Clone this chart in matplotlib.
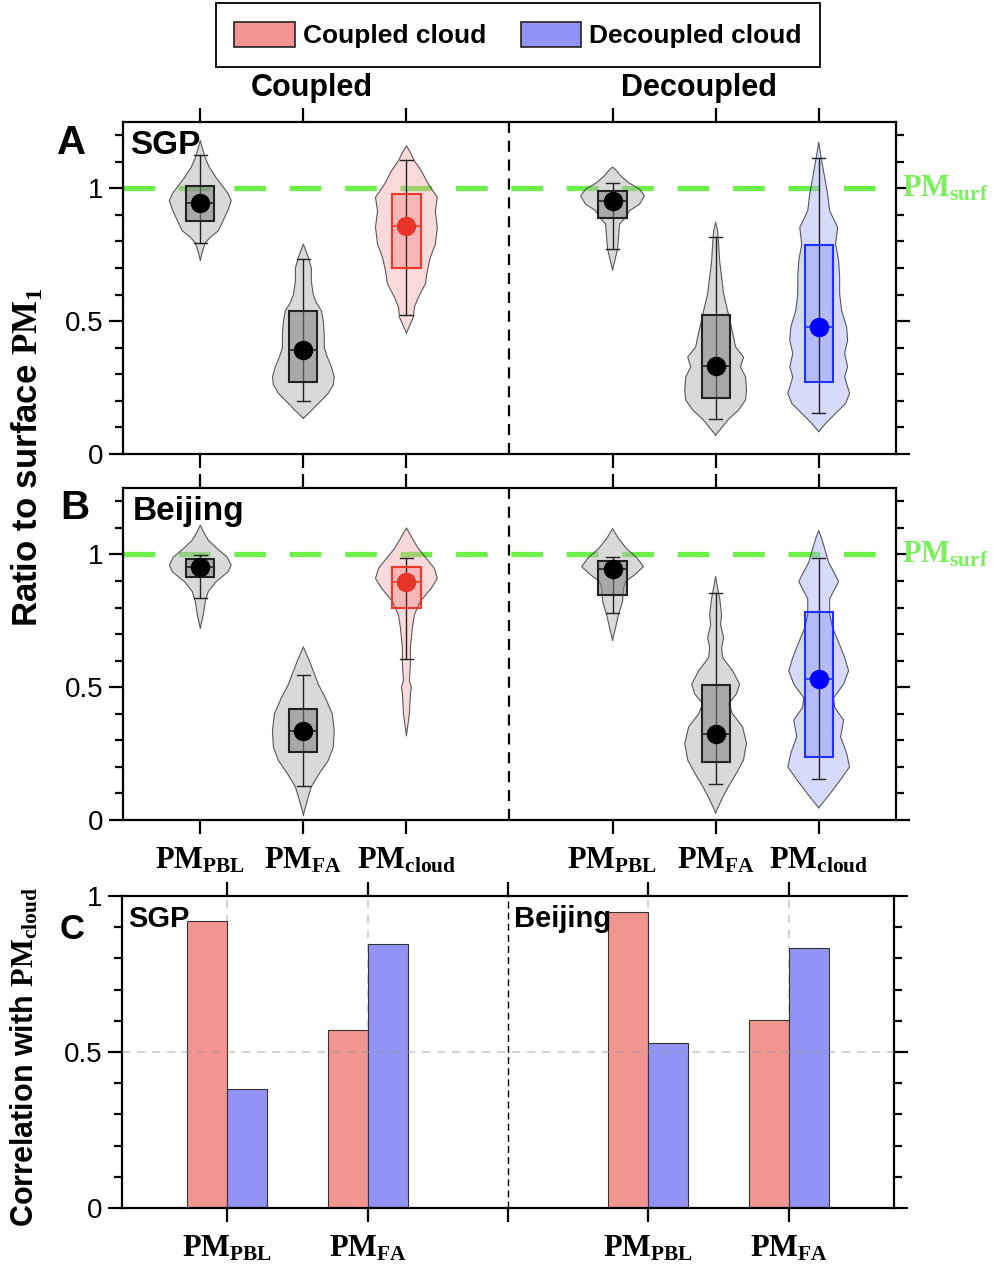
import numpy as np
import matplotlib
matplotlib.use('Agg')
import matplotlib.pyplot as plt
from matplotlib.patches import Patch, Rectangle
from matplotlib.ticker import MultipleLocator
import matplotlib.transforms as mtransforms

plt.rcParams['font.family'] = ['Liberation Sans', 'DejaVu Sans']
plt.rcParams['mathtext.fontset'] = 'custom'
plt.rcParams['mathtext.rm'] = 'Liberation Serif:bold'
plt.rcParams['mathtext.bf'] = 'Liberation Serif:bold'
plt.rcParams['mathtext.it'] = 'Liberation Serif:bold'

# ---------------- data ----------------
violin_pos = [1, 2, 3, 5, 6, 7]
violin_kind = ['gray', 'gray', 'red', 'gray', 'gray', 'blue']
xlabels_ab = [r'$\mathrm{PM}_{\mathrm{PBL}}$', r'$\mathrm{PM}_{\mathrm{FA}}$', r'$\mathrm{PM}_{\mathrm{cloud}}$',
              r'$\mathrm{PM}_{\mathrm{PBL}}$', r'$\mathrm{PM}_{\mathrm{FA}}$', r'$\mathrm{PM}_{\mathrm{cloud}}$']

# box stats: q1, q3, mean, whisker low, whisker high
sgp_q1 = [0.879, 0.272, 0.700, 0.889, 0.209, 0.272]
sgp_q3 = [1.010, 0.537, 0.979, 0.991, 0.524, 0.785]
sgp_mean = [0.945, 0.390, 0.857, 0.954, 0.332, 0.478]
sgp_lo = [0.795, 0.200, 0.522, 0.772, 0.131, 0.153]
sgp_hi = [1.126, 0.735, 1.106, 1.022, 0.816, 1.114]

bj_q1 = [0.916, 0.256, 0.798, 0.847, 0.217, 0.239]
bj_q3 = [0.982, 0.418, 0.954, 0.974, 0.507, 0.783]
bj_mean = [0.954, 0.337, 0.895, 0.946, 0.324, 0.532]
bj_lo = [0.835, 0.127, 0.605, 0.780, 0.136, 0.156]
bj_hi = [0.998, 0.546, 0.985, 0.989, 0.855, 0.985]

# violin outlines: level and relative density (1 = widest)
sgp_vy = [
    [0.73, 0.76, 0.795, 0.816, 0.84, 0.879, 0.92, 0.954, 0.98, 1.00, 1.04, 1.08, 1.115, 1.14, 1.18],
    [0.134, 0.159, 0.19, 0.228, 0.26, 0.29, 0.33, 0.365, 0.40, 0.45, 0.50, 0.54, 0.57, 0.60, 0.65, 0.70, 0.74, 0.77, 0.79],
    [0.455, 0.515, 0.553, 0.59, 0.64, 0.69, 0.74, 0.79, 0.853, 0.916, 0.966, 1.016, 1.066, 1.104, 1.135, 1.16],
    [0.693, 0.74, 0.772, 0.816, 0.866, 0.89, 0.916, 0.94, 0.972, 0.997, 1.022, 1.048, 1.067, 1.08],
    [0.071, 0.103, 0.131, 0.165, 0.203, 0.24, 0.29, 0.328, 0.365, 0.403, 0.44, 0.49, 0.54, 0.603, 0.666, 0.728, 0.79, 0.84, 0.872],
    [0.084, 0.115, 0.153, 0.19, 0.228, 0.29, 0.328, 0.378, 0.428, 0.478, 0.54, 0.603, 0.666, 0.728, 0.79, 0.853, 0.916, 0.979, 1.041, 1.104, 1.173],
]
sgp_vd = [
    [0, 2, 5, 10, 18, 23, 28, 31, 28, 24, 16, 9, 5, 3, 0],
    [0, 7, 15, 25, 30, 31, 28, 24, 21, 21, 20, 18, 13, 10, 8, 8, 5, 2, 0],
    [0, 7, 8, 12, 19, 21, 24, 29, 31, 29, 31, 22, 15, 8, 4, 0],
    [0, 3, 5, 6, 7, 13, 17, 27, 32, 27, 16, 8, 4, 0],
    [0, 7, 13, 23, 30, 31, 30, 25, 28, 20, 18, 15, 12, 8, 6, 4, 3, 2, 0],
    [0, 7, 17, 27, 31, 26, 29, 26, 29, 28, 23, 21, 21, 20, 17, 19, 11, 9, 6, 3, 0],
]
bj_vy = [
    [0.723, 0.773, 0.823, 0.86, 0.898, 0.935, 0.96, 0.99, 1.022, 1.054, 1.08, 1.11],
    [0.019, 0.075, 0.125, 0.175, 0.224, 0.274, 0.337, 0.40, 0.461, 0.511, 0.561, 0.60, 0.652],
    [0.318, 0.40, 0.474, 0.50, 0.524, 0.586, 0.648, 0.723, 0.773, 0.823, 0.873, 0.91, 0.948, 0.985, 1.022, 1.06, 1.10],
    [0.677, 0.724, 0.774, 0.823, 0.873, 0.898, 0.923, 0.954, 0.985, 1.022, 1.06, 1.097],
    [0.027, 0.077, 0.127, 0.177, 0.226, 0.289, 0.351, 0.40, 0.438, 0.475, 0.512, 0.562, 0.612, 0.649, 0.687, 0.736, 0.774, 0.836, 0.873, 0.917],
    [0.046, 0.102, 0.152, 0.20, 0.251, 0.313, 0.376, 0.425, 0.46, 0.512, 0.562, 0.612, 0.66, 0.724, 0.774, 0.833, 0.898, 0.935, 0.97, 1.022, 1.06, 1.09],
]
bj_vd = [
    [0, 3, 5, 8, 16, 28, 31, 27, 17, 8, 4, 0],
    [0, 4, 8, 16, 25, 30, 31, 29, 22, 15, 10, 6, 0],
    [0, 3, 4, 5, 3, 4, 4, 6, 8, 14, 25, 31, 28, 20, 12, 6, 0],
    [0, 3, 6, 10, 11, 13, 22, 31, 25, 14, 6, 0],
    [0, 6, 13, 21, 28, 31, 27, 17, 13, 21, 24, 17, 7, 6, 8, 5, 6, 4, 2, 0],
    [0, 12, 22, 31, 28, 22, 25, 16, 15, 25, 30, 26, 21, 14, 11, 11, 20, 15, 10, 6, 3, 0],
]

# panel C correlations
bar_pos = [1, 2, 4, 5]
bar_labels = [r'$\mathrm{PM}_{\mathrm{PBL}}$', r'$\mathrm{PM}_{\mathrm{FA}}$',
              r'$\mathrm{PM}_{\mathrm{PBL}}$', r'$\mathrm{PM}_{\mathrm{FA}}$']
corr_coupled = [0.920, 0.571, 0.949, 0.602]
corr_decoupled = [0.383, 0.845, 0.529, 0.833]

# ---------------- styles ----------------
styles = {
    'gray': dict(vfill='#b4b4b4', valpha=0.5, bfill='#808080', balpha=0.55, edge='#222222', dot='black'),
    'red': dict(vfill='#f0a0a0', valpha=0.4, bfill='#e83030', balpha=0.2, edge='#ea3a2e', dot='#e8352a'),
    'blue': dict(vfill='#a8aef5', valpha=0.45, bfill='#3040f0', balpha=0.2, edge='#2030ff', dot='#0000ff'),
}
GREEN = '#6ef04a'
RED_BAR = '#f0958f'
BLUE_BAR = '#9393f5'
VHALF = 0.30 / 31.0
BOXHALF = 0.137
CAPHALF = 0.065

fig = plt.figure(figsize=(9.95, 12.68), dpi=100)
axA = fig.add_axes([0.1236, 0.6420, 0.7769, 0.2618])
axB = fig.add_axes([0.1236, 0.3533, 0.7769, 0.2618])
axC = fig.add_axes([0.1226, 0.0473, 0.7759, 0.2461])


def style_axis(ax, xt):
    for s in ax.spines.values():
        s.set_linewidth(1.6)
    ax.set_xticks(xt)
    ax.tick_params(axis='x', which='major', direction='out', length=10, width=1.6,
                   top=True, bottom=True, labeltop=False, pad=8)
    ax.set_yticks([0, 0.5, 1])
    ax.set_yticklabels(['0', '0.5', '1'])
    ax.yaxis.set_minor_locator(MultipleLocator(0.1))
    ax.tick_params(axis='y', which='major', direction='out', length=10, width=1.6,
                   left=True, right=True, labelsize=20, pad=4)
    ax.tick_params(axis='y', which='minor', direction='out', length=6, width=1.6,
                   left=True, right=True)


def draw_panel(ax, vy, vd, q1, q3, mean, lo, hi):
    ax.set_xlim(0.25, 7.75)
    ax.set_ylim(0, 1.25)
    ax.axhline(1.0, color=GREEN, lw=3.8, dashes=(6, 4.5), zorder=1)
    ax.axvline(4, color='black', lw=1.6, dashes=(5, 3.5), zorder=1)
    for i, x in enumerate(violin_pos):
        st = styles[violin_kind[i]]
        ys = np.array(vy[i])
        hw = np.array(vd[i]) * VHALF
        xs = np.concatenate([x - hw, (x + hw)[::-1]])
        yy = np.concatenate([ys, ys[::-1]])
        ax.fill(xs, yy, facecolor=st['vfill'], alpha=st['valpha'], zorder=2, lw=0)
        ax.plot(xs, yy, color='#333333', lw=0.8, alpha=0.8, zorder=2.1)
        ax.plot([x, x], [lo[i], hi[i]], color='#222222', lw=1.0, zorder=3)
        for yc in (lo[i], hi[i]):
            ax.plot([x - CAPHALF, x + CAPHALF], [yc, yc], color='#222222', lw=1.0, zorder=3)
        ax.add_patch(Rectangle((x - BOXHALF, q1[i]), 2 * BOXHALF, q3[i] - q1[i],
                               facecolor=st['bfill'], alpha=st['balpha'], lw=0, zorder=3.5))
        ax.add_patch(Rectangle((x - BOXHALF, q1[i]), 2 * BOXHALF, q3[i] - q1[i],
                               facecolor='none', edgecolor=st['edge'], lw=1.5, zorder=3.6))
        ax.plot([x - BOXHALF, x + BOXHALF], [mean[i], mean[i]], color=st['edge'], lw=1.2, zorder=3.7)
        ax.plot([x], [mean[i]], 'o', color=st['dot'], ms=13, zorder=4)
    style_axis(ax, violin_pos)
    trans = mtransforms.blended_transform_factory(ax.transAxes, ax.transData)
    ax.text(1.008, 1.0, r'$\mathrm{PM}_{\mathrm{surf}}$', color='#7cf05c', fontsize=22,
            transform=trans, va='center', ha='left')


draw_panel(axA, sgp_vy, sgp_vd, sgp_q1, sgp_q3, sgp_mean, sgp_lo, sgp_hi)
draw_panel(axB, bj_vy, bj_vd, bj_q1, bj_q3, bj_mean, bj_lo, bj_hi)
axA.set_xticklabels([])
axB.set_xticklabels(xlabels_ab, fontsize=22)
axA.text(0.009, 0.975, 'SGP', transform=axA.transAxes, fontsize=24, fontweight='bold', va='top')
axB.text(0.013, 0.975, 'Beijing', transform=axB.transAxes, fontsize=24, fontweight='bold', va='top')

# panel C
bw = 0.285
axC.set_xlim(0.25, 5.75)
axC.set_ylim(0, 1)
for xv in bar_pos:
    axC.plot([xv, xv], [0, 1], color='#cccccc', lw=1.2, dashes=(5, 4), zorder=0.5)
axC.bar(np.array(bar_pos) - bw / 2, corr_coupled, bw, color=RED_BAR, edgecolor='#333333', lw=0.8, zorder=2)
axC.bar(np.array(bar_pos) + bw / 2, corr_decoupled, bw, color=BLUE_BAR, edgecolor='#333333', lw=0.8, zorder=2)
axC.axhline(0.5, color='#999999', lw=1.2, dashes=(5, 4), alpha=0.5, zorder=3)
axC.axvline(3, color='black', lw=1.0, dashes=(5, 3), zorder=1)
style_axis(axC, [1, 2, 3, 4, 5])
axC.set_xticklabels([bar_labels[0], bar_labels[1], '', bar_labels[2], bar_labels[3]], fontsize=22)
axC.text(0.008, 0.97, 'SGP', transform=axC.transAxes, fontsize=21, fontweight='bold', va='top')
axC.text(0.508, 0.97, 'Beijing', transform=axC.transAxes, fontsize=21, fontweight='bold', va='top')

# figure labels
fig.text(0.028, 0.639, r'Ratio to surface $\mathrm{PM}_{\mathrm{1}}$', rotation=90, fontsize=25,
         fontweight='bold', ha='center', va='center')
fig.text(0.025, 0.166, r'Correlation with $\mathrm{PM}_{\mathrm{cloud}}$', rotation=90, fontsize=22,
         fontweight='bold', ha='center', va='center')
fig.text(0.3136, 0.9306, 'Coupled', fontsize=22, fontweight='bold', ha='center', va='center')
fig.text(0.7025, 0.9306, 'Decoupled', fontsize=22, fontweight='bold', ha='center', va='center')
fig.text(0.072, 0.887, 'A', fontsize=29, fontweight='heavy', ha='center', va='center')
fig.text(0.075, 0.599, 'B', fontsize=29, fontweight='heavy', ha='center', va='center')
fig.text(0.072, 0.267, 'C', fontsize=25, fontweight='heavy', ha='center', va='center')

handles = [Patch(facecolor=RED_BAR, edgecolor='#222222', lw=1.2),
           Patch(facecolor=BLUE_BAR, edgecolor='#222222', lw=1.2)]
leg = fig.legend(handles, ['Coupled cloud', 'Decoupled cloud'], loc='upper center',
                 bbox_to_anchor=(0.5206, 0.9976), ncol=2, fancybox=False, edgecolor='black',
                 prop={'weight': 'bold', 'size': 19}, handlelength=2.3, handleheight=1.1,
                 handletextpad=0.3, columnspacing=1.3, borderpad=0.7, borderaxespad=0,
                 framealpha=1)
leg.get_frame().set_linewidth(1.3)

fig.savefig('out.png', dpi=100)
